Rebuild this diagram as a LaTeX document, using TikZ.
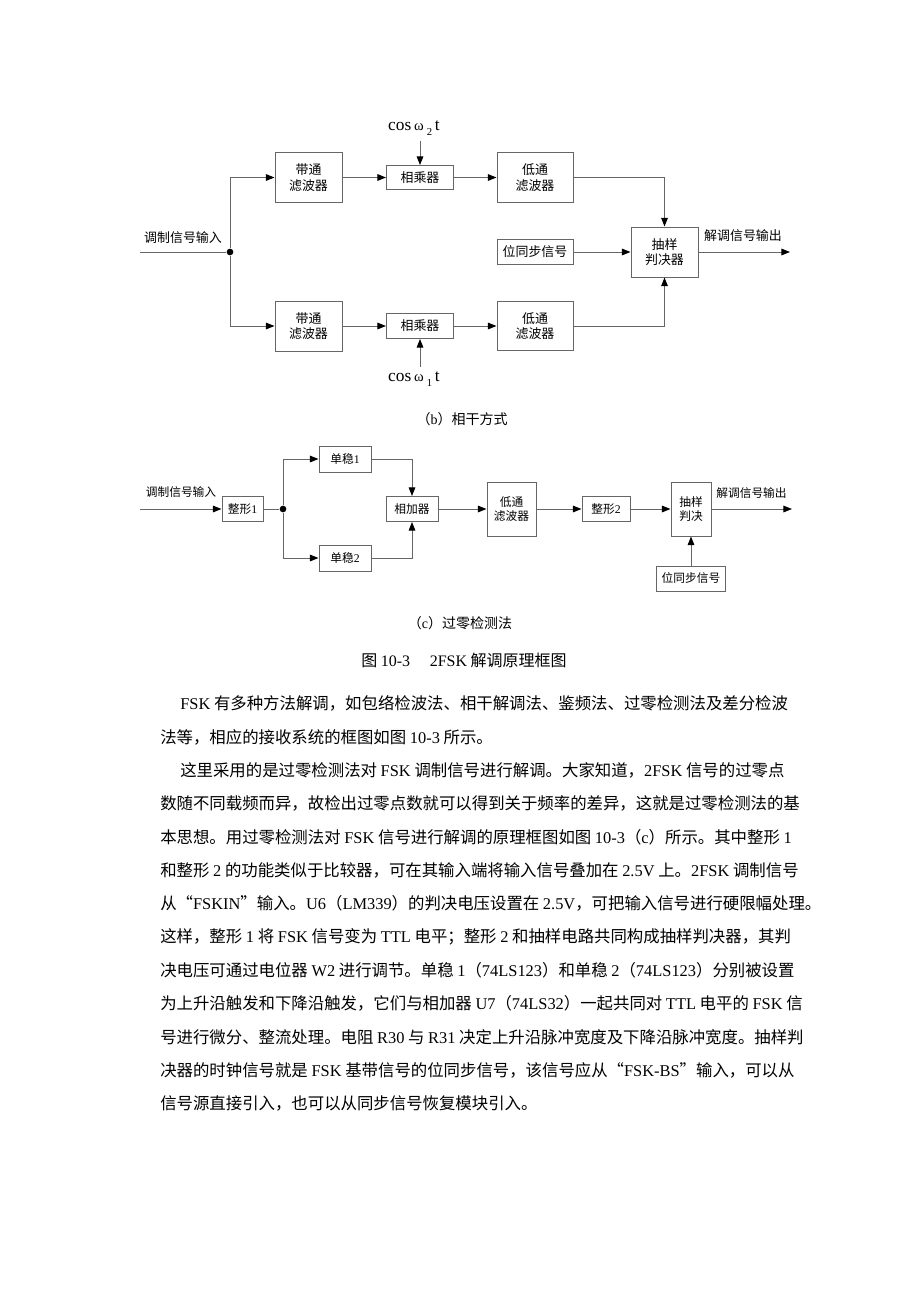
\documentclass[tikz,border=0pt]{standalone}
\usepackage{fontspec}
\setmainfont{Noto Sans CJK SC}
\newfontfamily\en{Liberation Serif}
\usetikzlibrary{arrows.meta}
\XeTeXlinebreaklocale "zh"
\newdimen\px \px=0.75pt
\newcommand\lat[1]{{\en #1}}
\tikzset{blk/.style={draw=black!60,line width=0.75pt,align=center,inner sep=1pt,font=\fontsize{9.7}{11.5}\selectfont},
wire/.style={draw=black!60,line width=0.75pt},
arrow/.style={wire,-{Triangle[length=6.5pt,width=5pt,black]}},
lab/.style={font=\fontsize{9.7}{11.5}\selectfont,inner sep=0pt},
small/.style={font=\fontsize{8.8}{11}\selectfont},
para/.style={font=\fontsize{12.3}{15}\selectfont,inner sep=0pt,anchor=west},
dot/.style={circle,fill=black,inner sep=0pt,minimum size=5pt}}
\begin{document}
\begin{tikzpicture}[x=0.75pt,y=-0.75pt]
\fill[white] (0,0) rectangle (920,1302);
\useasboundingbox (0,0) rectangle (920,1302);
% (b) coherent
\node[lab] (inb) at (183,238) {调制信号输入};
\coordinate (sb) at (140,252);
\node[dot] (j1) at (230,252) {};
\node[blk,minimum width=67\px,minimum height=50\px] (bp1) at (308.5,177.5) {带通\\滤波器};
\node[blk,minimum width=67\px,minimum height=50\px] (bp2) at (308.5,326) {带通\\滤波器};
\node[blk,minimum width=67\px,minimum height=24\px] (mul1) at (420,177.5) {相乘器};
\node[blk,minimum width=67\px,minimum height=25\px] (mul2) at (420,326) {相乘器};
\node[blk,minimum width=76\px,minimum height=49\px] (lp1) at (535,177.5) {低通\\滤波器};
\node[blk,minimum width=76\px,minimum height=49\px] (lp2) at (535,326) {低通\\滤波器};
\node[blk,minimum width=76\px,minimum height=25\px] (sync1) at (535,252) {位同步信号};
\node[blk,minimum width=67\px,minimum height=50\px] (dec1) at (664.5,252) {抽样\\判决器};
\node[lab,font=\fontsize{13}{13}\selectfont] (w2) at (414,128) {\lat{cos\,{\fontsize{11}{11}\selectfont ω}\,\raisebox{-0.6ex}{\fontsize{8}{8}\selectfont 2}\,t}};
\node[lab,font=\fontsize{13}{13}\selectfont] (w1) at (414,379) {\lat{cos\,{\fontsize{11}{11}\selectfont ω}\,\raisebox{-0.6ex}{\fontsize{8}{8}\selectfont 1}\,t}};
\coordinate (w2e) at (420,141);
\coordinate (w1e) at (420,367);
\node[lab] (outb) at (743,236) {解调信号输出};
\coordinate (ob) at (790,252);
\node[lab,font=\fontsize{10.5}{12}\selectfont] (capb) at (462,419) {（\lat{b}）相干方式};
\draw[wire](sb)--(j1);
\draw[arrow](j1)|-(bp1);\draw[arrow](j1)|-(bp2);
\draw[arrow](bp1)--(mul1);\draw[arrow](mul1)--(lp1);
\draw[arrow](bp2)--(mul2);\draw[arrow](mul2)--(lp2);
\draw[arrow](w2e)--(mul1);\draw[arrow](w1e)--(mul2);
\draw[arrow](lp1)-|(dec1);\draw[arrow](lp2)-|(dec1);
\draw[arrow](sync1)--(dec1);\draw[arrow](dec1)--(ob);
% (c) zero crossing
\node[lab,small] (inc) at (181,492) {调制信号输入};
\coordinate (sc) at (140,509);
\node[blk,small,minimum width=41\px,minimum height=25\px] (zx1) at (242.5,509) {整形\lat{1}};
\node[dot] (j2) at (283,509) {};
\node[blk,small,minimum width=52\px,minimum height=26\px] (ms1) at (345,459) {单稳\lat{1}};
\node[blk,small,minimum width=52\px,minimum height=26\px] (ms2) at (345,558) {单稳\lat{2}};
\node[blk,small,minimum width=52\px,minimum height=25\px] (add) at (412,509) {相加器};
\node[blk,small,minimum width=49\px,minimum height=54\px] (lp3) at (511.5,509) {低通\\滤波器};
\node[blk,small,minimum width=48\px,minimum height=25\px] (zx2) at (606,509) {整形\lat{2}};
\node[blk,small,minimum width=40\px,minimum height=54\px] (dec2) at (691,509) {抽样\\判决};
\node[blk,small,minimum width=69\px,minimum height=25\px] (sync2) at (691,578.5) {位同步信号};
\node[lab,small] (outc) at (751.5,493) {解调信号输出};
\coordinate (oc) at (792,509);
\node[lab,font=\fontsize{10.5}{12}\selectfont] (capc) at (460,623) {（\lat{c}）过零检测法};
\draw[arrow](sc)--(zx1);\draw[wire](zx1)--(j2);
\draw[arrow](j2)|-(ms1);\draw[arrow](j2)|-(ms2);
\draw[arrow](ms1)-|(add);\draw[arrow](ms2)-|(add);
\draw[arrow](add)--(lp3);\draw[arrow](lp3)--(zx2);\draw[arrow](zx2)--(dec2);
\draw[arrow](sync2)--(dec2);\draw[arrow](dec2)--(oc);
% caption and text
\node[lab,font=\fontsize{12}{13}\selectfont] (fig) at (464,660) {图 \lat{10-3}\quad\ \lat{2FSK} 解调原理框图};
\node[para] (p1) at (180,703) {\lat{FSK} 有多种方法解调，如包络检波法、相干解调法、鉴频法、过零检测法及差分检波};
\node[para] (p2) at (160,737) {法等，相应的接收系统的框图如图 \lat{10-3} 所示。};
\node[para] (p3) at (180,770) {这里采用的是过零检测法对 \lat{FSK} 调制信号进行解调。大家知道，\lat{2FSK} 信号的过零点};
\node[para] (p4) at (160,803) {数随不同载频而异，故检出过零点数就可以得到关于频率的差异，这就是过零检测法的基};
\node[para] (p5) at (160,837) {本思想。用过零检测法对 \lat{FSK} 信号进行解调的原理框图如图 \lat{10-3}（\lat{c}）所示。其中整形 \lat{1}};
\node[para] (p6) at (160,870) {和整形 \lat{2} 的功能类似于比较器，可在其输入端将输入信号叠加在 \lat{2.5V} 上。\lat{2FSK} 调制信号};
\node[para] (p7) at (160,903) {从“\lat{FSKIN}”输入。\lat{U6}（\lat{LM339}）的判决电压设置在 \lat{2.5V}，可把输入信号进行硬限幅处理。};
\node[para] (p8) at (160,937) {这样，整形 \lat{1} 将 \lat{FSK} 信号变为 \lat{TTL} 电平；整形 \lat{2} 和抽样电路共同构成抽样判决器，其判};
\node[para] (p9) at (160,970) {决电压可通过电位器 \lat{W2} 进行调节。单稳 \lat{1}（\lat{74LS123}）和单稳 \lat{2}（\lat{74LS123}）分别被设置};
\node[para] (p10) at (160,1003) {为上升沿触发和下降沿触发，它们与相加器 \lat{U7}（\lat{74LS32}）一起共同对 \lat{TTL} 电平的 \lat{FSK} 信};
\node[para] (p11) at (160,1037) {号进行微分、整流处理。电阻 \lat{R30} 与 \lat{R31} 决定上升沿脉冲宽度及下降沿脉冲宽度。抽样判};
\node[para] (p12) at (160,1070) {决器的时钟信号就是 \lat{FSK} 基带信号的位同步信号，该信号应从“\lat{FSK-BS}”输入，可以从};
\node[para] (p13) at (160,1103) {信号源直接引入，也可以从同步信号恢复模块引入。};
\end{tikzpicture}
\end{document}
